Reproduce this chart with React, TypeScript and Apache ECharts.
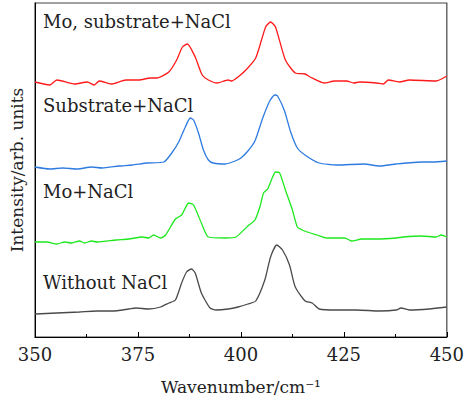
import React, { useEffect, useRef } from "react";
import * as echarts from "echarts";

// Wavenumber (cm^-1) and intensity (arb. units, offset spectra)
const redWn = [350, 353.6, 355.3, 359.6, 362.7, 364.4, 365.6, 368.5, 372.1, 375.2, 378.1, 379.6, 382.5, 384.4, 385.8, 387.0, 388.9, 390.6, 392.1, 394.2, 396.9, 397.8, 399.3, 401.2, 403.6, 406.0, 407.2, 408.4, 410.8, 413.2, 415.6, 416.8, 420.2, 422.8, 425.7, 427.4, 428.8, 432.9, 434.6, 435.8, 438.5, 440.9, 447.4, 450];
const redVal = [255, 252, 257, 253, 255, 252, 256, 253, 257, 257, 259, 259, 265, 277, 290, 293, 280, 262, 257, 254, 257, 256, 260, 267, 279, 310, 315, 310, 277, 264, 263, 260, 254, 256, 256, 254, 255, 254, 253, 257, 255, 257, 256, 261];

const blueWn = [350, 353.6, 356.7, 360.3, 363.7, 366.3, 370.4, 373.6, 377.2, 381.3, 383.2, 384.9, 386.5, 387.7, 388.5, 389.7, 390.9, 392.1, 393.3, 396.2, 398.6, 400, 401.7, 403.4, 405.3, 407.0, 408.2, 408.9, 410.6, 412.0, 413.7, 415.9, 419.0, 423.3, 429.8, 433.7, 437.7, 444.2, 446.6, 450];
const blueVal = [170, 168, 169, 168, 170, 169, 171, 172, 174, 175, 184, 195, 210, 219, 217, 204, 187, 177, 174, 173, 176, 179, 186, 196, 219, 236, 242, 241, 226, 206, 189, 181, 174, 172, 173, 171, 173, 175, 175, 176];

const greenWn = [350, 352.9, 355.3, 357.2, 358.9, 360.8, 362.0, 363.7, 365.1, 369.7, 372.8, 376.0, 377.6, 378.8, 380.5, 381.7, 384.1, 385.6, 387.3, 388.5, 390.4, 392.1, 396.2, 398.8, 401.7, 403.4, 404.6, 405.5, 406.5, 407.7, 408.4, 409.4, 410.8, 412.5, 413.7, 414.9, 416.1, 418.5, 420.9, 425.2, 426.9, 429.3, 432.9, 437.7, 439.4, 443.8, 447.4, 448.6, 450];
const greenVal = [95, 95, 93, 95, 94, 96, 94, 96, 95, 97, 98, 100, 99, 102, 99, 102, 118, 122, 134, 132, 114, 100, 99, 100, 111, 117, 130, 144, 148, 160, 165, 164, 147, 127, 110, 107, 105, 102, 99, 99, 96, 98, 98, 99, 100, 101, 100, 102, 100];

const grayWn = [350, 355.3, 360.8, 364.9, 368.8, 372.8, 374.5, 377.6, 380.5, 382.5, 384.1, 385.6, 386.8, 388.0, 388.9, 390.4, 392.5, 394.0, 396.9, 399.3, 401.7, 403.6, 405.8, 407.2, 408.7, 410.1, 411.8, 413.2, 415.6, 417.3, 419.0, 423.3, 428.1, 433.7, 437.7, 438.9, 440.9, 445.7, 450];
const grayVal = [23, 24, 25, 26, 26, 28, 29, 28, 30, 34, 37, 54, 65, 68, 64, 44, 29, 27, 28, 30, 33, 36, 57, 80, 92, 87, 72, 50, 36, 34, 28, 27, 27, 26, 27, 29, 27, 28, 30];

const seriesNames = ["Mo, substrate+NaCl", "Substrate+NaCl", "Mo+NaCl", "Without NaCl"];
const xTicks = [350, 375, 400, 425, 450];

const FONT = "DejaVu Serif";

function pairs(xs: number[], ys: number[]) {
  return xs.map((x, i) => [x, ys[i]]);
}

export default function App() {
  const ref = useRef<HTMLDivElement>(null);
  useEffect(() => {
    document.body.style.margin = "0";
    if (!ref.current) return;
    const chart = echarts.init(ref.current, undefined, { renderer: "svg" });
    const mk = (name: string, xs: number[], ys: number[], color: string) => ({
      name,
      type: "line",
      data: pairs(xs, ys),
      showSymbol: false,
      smooth: 0.2,
      lineStyle: { color, width: 1.3 },
      itemStyle: { color },
    });
    const labelText = (text: string, y: number) => ({
      type: "text",
      left: 43,
      top: y,
      style: { text, fill: "#222", font: `18px '${FONT}'` },
    });
    chart.setOption({
      animation: false,
      grid: { left: 35, right: 16, top: 3, bottom: 64, show: true, borderColor: "#444", borderWidth: 1.2 },
      xAxis: {
        type: "value",
        min: xTicks[0],
        max: xTicks[xTicks.length - 1],
        interval: 25,
        name: "Wavenumber/cm⁻¹",
        nameLocation: "middle",
        nameGap: 41,
        nameTextStyle: { fontFamily: FONT, fontSize: 17, color: "#222" },
        axisLine: { lineStyle: { color: "#000", width: 1 } },
        axisTick: { inside: true, length: 5, lineStyle: { color: "#000" } },
        minorTick: { show: true, splitNumber: 2, length: 3, lineStyle: { color: "#000" } },
        axisLabel: { fontFamily: FONT, fontSize: 18, color: "#222", margin: 8 },
        splitLine: { show: false },
      },
      yAxis: {
        type: "value",
        min: 0,
        max: 334,
        name: "Intensity/arb. units",
        nameLocation: "middle",
        nameGap: 10,
        nameRotate: 90,
        nameTextStyle: { fontFamily: FONT, fontSize: 17, color: "#222" },
        axisLine: { show: true, lineStyle: { color: "#000", width: 1 } },
        axisTick: { show: false },
        axisLabel: { show: false },
        splitLine: { show: false },
      },
      series: [
        mk(seriesNames[0], redWn, redVal, "#ff1a1a"),
        mk(seriesNames[1], blueWn, blueVal, "#2e7be0"),
        mk(seriesNames[2], greenWn, greenVal, "#1de81d"),
        mk(seriesNames[3], grayWn, grayVal, "#4a4a4a"),
      ],
      graphic: [
        labelText(seriesNames[0], 12),
        labelText(seriesNames[1], 96),
        labelText(seriesNames[2], 182),
        labelText(seriesNames[3], 273),
      ],
    });
    return () => chart.dispose();
  }, []);
  return <div ref={ref} style={{ width: 467, height: 401 }} />;
}
